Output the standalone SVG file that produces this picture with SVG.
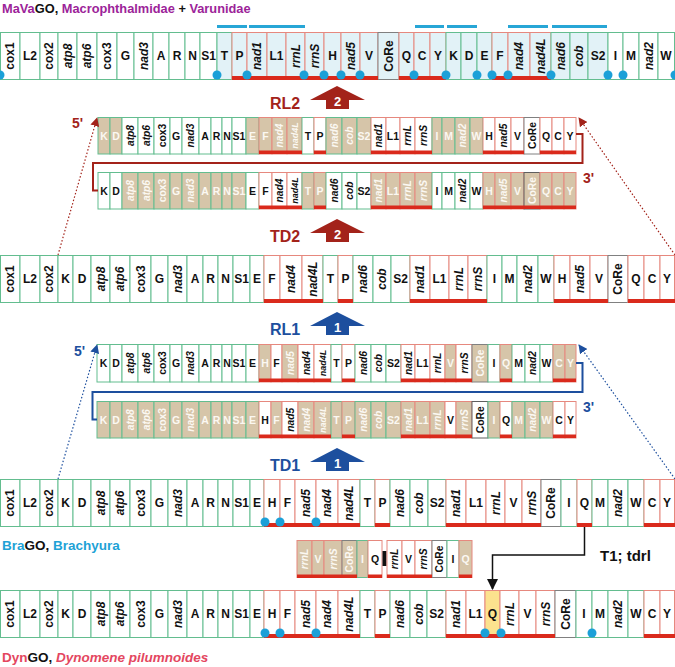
<svg xmlns="http://www.w3.org/2000/svg" xmlns:xlink="http://www.w3.org/1999/xlink" width="675" height="667" viewBox="0 0 675 667">
<style>
rect{stroke-width:1}
.g{stroke:#63bd8f}.r{stroke:#e6887e}.k{stroke:#808080}
.w{fill:#fff}.t{fill:#d6c5a9}.b{fill:#e2f2f7}.y{fill:#fce28e}
text{font-family:"Liberation Sans",Arial,sans-serif;font-weight:bold;text-anchor:middle;dominant-baseline:central;fill:#111;font-size:12px}
.m{font-size:10.5px}.n{font-size:10.3px}.n8{font-size:9px}
.i{font-style:italic}
.lt{fill:#fbf8f2}
.bar{fill:#da2a1c;stroke:none}
.dot{fill:#1ba0d8}
.bb{fill:#27a6d6}
.lab{text-anchor:start;dominant-baseline:auto}
.num{fill:#fff;font-size:13px}
.rd{fill:#a3231a}.bl{fill:#1d4f9e}
</style>
<defs>
<path id="bigArrow" d="M310,100 L337,86 L365,100 L349,100 L349,109 L326,109 L326,100 Z"/>
<marker id="mr" viewBox="0 0 10 10" refX="9" refY="5" markerWidth="9" markerHeight="9" markerUnits="userSpaceOnUse" orient="auto"><path d="M0,0 L10,5 L0,10 Z" fill="#a3231a"/></marker>
<marker id="mb" viewBox="0 0 10 10" refX="9" refY="5" markerWidth="9" markerHeight="9" markerUnits="userSpaceOnUse" orient="auto"><path d="M0,0 L10,5 L0,10 Z" fill="#1d4f9e"/></marker>
<marker id="mk" viewBox="0 0 10 10" refX="9" refY="5" markerWidth="11" markerHeight="12" markerUnits="userSpaceOnUse" orient="auto"><path d="M0,0 L10,5 L0,10 Z" fill="#111"/></marker>
</defs>

<!-- Titles -->
<text class="lab" x="2" y="13" style="font-size:12.8px"><tspan fill="#9c2399">MaVa</tspan>GO, <tspan fill="#9c2399">Macrophthalmidae</tspan> + <tspan fill="#9c2399">Varunidae</tspan></text>
<text class="lab" x="2" y="550" style="font-size:13.5px"><tspan fill="#1ea2d6">Bra</tspan>GO, <tspan fill="#1ea2d6">Brachyura</tspan></text>
<text class="lab" x="2" y="662" style="font-size:13.5px"><tspan fill="#e4475f">Dyn</tspan>GO, <tspan fill="#e4475f" font-style="italic">Dynomene pilumnoides</tspan></text>

<!-- Row 1: MaVaGO -->
<g id="mavago">
<rect class="g w" x="0.5" y="32.5" width="19.5" height="47"/>
<rect class="g w" x="20" y="32.5" width="20" height="47"/>
<rect class="g w" x="40" y="32.5" width="18" height="47"/>
<rect class="g w" x="58" y="32.5" width="19" height="47"/>
<rect class="g w" x="77" y="32.5" width="20" height="47"/>
<rect class="g w" x="97" y="32.5" width="20" height="47"/>
<rect class="g w" x="117" y="32.5" width="17" height="47"/>
<rect class="g w" x="134" y="32.5" width="19" height="47"/>
<rect class="g w" x="153" y="32.5" width="16" height="47"/>
<rect class="g w" x="169" y="32.5" width="16" height="47"/>
<rect class="g w" x="185" y="32.5" width="15" height="47"/>
<rect class="g w" x="200" y="32.5" width="17" height="47"/>
<rect class="g b" x="217" y="32.5" width="15" height="47"/>
<rect class="r b" x="232" y="32.5" width="15" height="47"/>
<rect class="r b" x="247" y="32.5" width="20" height="47"/>
<rect class="r b" x="267" y="32.5" width="19" height="47"/>
<rect class="r b" x="286" y="32.5" width="19" height="47"/>
<rect class="r b" x="305" y="32.5" width="19" height="47"/>
<rect class="r b" x="324" y="32.5" width="17" height="47"/>
<rect class="r b" x="341" y="32.5" width="19" height="47"/>
<rect class="r b" x="360" y="32.5" width="18" height="47"/>
<rect class="k b" x="378" y="32.5" width="21" height="47"/>
<rect class="r b" x="399" y="32.5" width="15" height="47"/>
<rect class="r b" x="414" y="32.5" width="16" height="47"/>
<rect class="r b" x="430" y="32.5" width="16" height="47"/>
<rect class="g b" x="446" y="32.5" width="15" height="47"/>
<rect class="g b" x="461" y="32.5" width="16" height="47"/>
<rect class="g b" x="477" y="32.5" width="15" height="47"/>
<rect class="r b" x="492" y="32.5" width="16" height="47"/>
<rect class="r b" x="508" y="32.5" width="22" height="47"/>
<rect class="r b" x="530" y="32.5" width="21" height="47"/>
<rect class="g b" x="551" y="32.5" width="19" height="47"/>
<rect class="g b" x="570" y="32.5" width="18" height="47"/>
<rect class="g b" x="588" y="32.5" width="20" height="47"/>
<rect class="g w" x="608" y="32.5" width="15" height="47"/>
<rect class="g w" x="623" y="32.5" width="16" height="47"/>
<rect class="g w" x="639" y="32.5" width="19" height="47"/>
<rect class="g w" x="658" y="32.5" width="16.5" height="47"/>
<text transform="rotate(-90 10.25 56)" x="10.25" y="56">cox1</text>
<text x="30" y="56">L2</text>
<text transform="rotate(-90 49 56)" x="49" y="56">cox2</text>
<text class="i" transform="rotate(-90 67.5 56)" x="67.5" y="56">atp8</text>
<text class="i" transform="rotate(-90 87 56)" x="87" y="56">atp6</text>
<text transform="rotate(-90 107 56)" x="107" y="56">cox3</text>
<text x="125.5" y="56">G</text>
<text class="i" transform="rotate(-90 143.5 56)" x="143.5" y="56">nad3</text>
<text x="161" y="56">A</text>
<text x="177" y="56">R</text>
<text x="192.5" y="56">N</text>
<text x="208.5" y="56">S1</text>
<text x="224.5" y="56">T</text>
<text x="239.5" y="56">P</text>
<text class="i" transform="rotate(-90 257 56)" x="257" y="56">nad1</text>
<text x="276.5" y="56">L1</text>
<text class="i" transform="rotate(-90 295.5 56)" x="295.5" y="56">rrnL</text>
<text class="i" transform="rotate(-90 314.5 56)" x="314.5" y="56">rrnS</text>
<text x="332.5" y="56">H</text>
<text class="i" transform="rotate(-90 350.5 56)" x="350.5" y="56">nad5</text>
<text x="369" y="56">V</text>
<text transform="rotate(-90 388.5 56)" x="388.5" y="56">CoRe</text>
<text x="406.5" y="56">Q</text>
<text x="422" y="56">C</text>
<text x="438" y="56">Y</text>
<text x="453.5" y="56">K</text>
<text x="469" y="56">D</text>
<text x="484.5" y="56">E</text>
<text x="500" y="56">F</text>
<text class="i" transform="rotate(-90 519 56)" x="519" y="56">nad4</text>
<text class="i" transform="rotate(-90 540.5 56)" x="540.5" y="56">nad4L</text>
<text class="i" transform="rotate(-90 560.5 56)" x="560.5" y="56">nad6</text>
<text class="i" transform="rotate(-90 579 56)" x="579" y="56">cob</text>
<text x="598" y="56">S2</text>
<text x="615.5" y="56">I</text>
<text x="631" y="56">M</text>
<text class="i" transform="rotate(-90 648.5 56)" x="648.5" y="56">nad2</text>
<text x="666" y="56">W</text>
<rect class="bar" x="232" y="76" width="146" height="4"/>
<rect class="bar" x="399" y="76" width="47" height="4"/>
<rect class="bar" x="492" y="76" width="59" height="4"/>
<rect class="bb" x="217" y="25" width="30" height="3"/>
<rect class="bb" x="249" y="25" width="56" height="3"/>
<rect class="bb" x="415" y="25" width="29" height="3"/>
<rect class="bb" x="447" y="25" width="30" height="3"/>
<rect class="bb" x="508" y="25" width="40" height="3"/>
<rect class="bb" x="552" y="25" width="55" height="3"/>
<circle class="dot" cx="0" cy="75" r="4.5"/><circle class="dot" cx="217" cy="75" r="4.5"/><circle class="dot" cx="247" cy="75" r="4.5"/><circle class="dot" cx="304" cy="75" r="4.5"/><circle class="dot" cx="324" cy="75" r="4.5"/><circle class="dot" cx="341" cy="75" r="4.5"/><circle class="dot" cx="360" cy="75" r="4.5"/><circle class="dot" cx="414" cy="75" r="4.5"/><circle class="dot" cx="446" cy="75" r="4.5"/><circle class="dot" cx="477" cy="75" r="4.5"/><circle class="dot" cx="492" cy="75" r="4.5"/><circle class="dot" cx="508" cy="75" r="4.5"/><circle class="dot" cx="551" cy="75" r="4.5"/><circle class="dot" cx="608" cy="75" r="4.5"/><circle class="dot" cx="623" cy="75" r="4.5"/><circle class="dot" cx="675" cy="75" r="4.5"/>
</g>

<!-- RL2 labels -->
<g id="rl2-label">
<text class="lab rd" x="270" y="109" style="font-size:16px">RL2</text>
<use xlink:href="#bigArrow" href="#bigArrow" fill="#a3231a"/>
<text class="num" x="337.5" y="101">2</text>
<text class="lab rd" x="72" y="128" style="font-size:14px">5'</text>
<text class="lab rd" x="583" y="183" style="font-size:14px">3'</text>
</g>

<!-- RL2 top -->
<g id="rl2-top">
<rect class="g t" x="98" y="117.5" width="12" height="36.5"/>
<rect class="g t" x="110" y="117.5" width="12" height="36.5"/>
<rect class="g w" x="122" y="117.5" width="16" height="36.5"/>
<rect class="g w" x="138" y="117.5" width="16" height="36.5"/>
<rect class="g w" x="154" y="117.5" width="16" height="36.5"/>
<rect class="g w" x="170" y="117.5" width="12" height="36.5"/>
<rect class="g w" x="182" y="117.5" width="17" height="36.5"/>
<rect class="g w" x="199" y="117.5" width="12" height="36.5"/>
<rect class="g w" x="211" y="117.5" width="11" height="36.5"/>
<rect class="g w" x="222" y="117.5" width="10" height="36.5"/>
<rect class="g w" x="232" y="117.5" width="14" height="36.5"/>
<rect class="g t" x="246" y="117.5" width="13" height="36.5"/>
<rect class="r t" x="259" y="117.5" width="13" height="36.5"/>
<rect class="r t" x="272" y="117.5" width="15" height="36.5"/>
<rect class="r t" x="287" y="117.5" width="15" height="36.5"/>
<rect class="g w" x="302" y="117.5" width="12" height="36.5"/>
<rect class="r w" x="314" y="117.5" width="12" height="36.5"/>
<rect class="g t" x="326" y="117.5" width="16" height="36.5"/>
<rect class="g t" x="342" y="117.5" width="15" height="36.5"/>
<rect class="g t" x="357" y="117.5" width="14" height="36.5"/>
<rect class="r w" x="371" y="117.5" width="15" height="36.5"/>
<rect class="r w" x="386" y="117.5" width="14" height="36.5"/>
<rect class="r w" x="400" y="117.5" width="15" height="36.5"/>
<rect class="r w" x="415" y="117.5" width="17" height="36.5"/>
<rect class="g t" x="432" y="117.5" width="10" height="36.5"/>
<rect class="g t" x="442" y="117.5" width="13" height="36.5"/>
<rect class="g t" x="455" y="117.5" width="15" height="36.5"/>
<rect class="g t" x="470" y="117.5" width="13" height="36.5"/>
<rect class="r w" x="483" y="117.5" width="12" height="36.5"/>
<rect class="r w" x="495" y="117.5" width="16" height="36.5"/>
<rect class="r w" x="511" y="117.5" width="13" height="36.5"/>
<rect class="k w" x="524" y="117.5" width="16" height="36.5"/>
<rect class="r w" x="540" y="117.5" width="12" height="36.5"/>
<rect class="r w" x="552" y="117.5" width="12" height="36.5"/>
<rect class="r w" x="564" y="117.5" width="12" height="36.5"/>
<text class="m lt" x="104" y="135.5">K</text>
<text class="m lt" x="116" y="135.5">D</text>
<text class="n i" transform="rotate(-90 130 135.5)" x="130" y="135.5">atp8</text>
<text class="n i" transform="rotate(-90 146 135.5)" x="146" y="135.5">atp6</text>
<text class="n" transform="rotate(-90 162 135.5)" x="162" y="135.5">cox3</text>
<text class="m" x="176" y="135.5">G</text>
<text class="n i" transform="rotate(-90 190.5 135.5)" x="190.5" y="135.5">nad3</text>
<text class="m" x="205" y="135.5">A</text>
<text class="m" x="216.5" y="135.5">R</text>
<text class="m" x="227" y="135.5">N</text>
<text class="m" x="239" y="135.5">S1</text>
<text class="m lt" x="252.5" y="135.5">E</text>
<text class="m lt" x="265.5" y="135.5">F</text>
<text class="n i lt" transform="rotate(-90 279.5 135.5)" x="279.5" y="135.5">nad4</text>
<text class="n8 i lt" transform="rotate(-90 294.5 135.5)" x="294.5" y="135.5">nad4L</text>
<text class="m" x="308" y="135.5">T</text>
<text class="m" x="320" y="135.5">P</text>
<text class="n i lt" transform="rotate(-90 334 135.5)" x="334" y="135.5">nad6</text>
<text class="n i lt" transform="rotate(-90 349.5 135.5)" x="349.5" y="135.5">cob</text>
<text class="m lt" x="364" y="135.5">S2</text>
<text class="n i" transform="rotate(-90 378.5 135.5)" x="378.5" y="135.5">nad1</text>
<text class="m" x="393" y="135.5">L1</text>
<text class="n i" transform="rotate(-90 407.5 135.5)" x="407.5" y="135.5">rrnL</text>
<text class="n i" transform="rotate(-90 423.5 135.5)" x="423.5" y="135.5">rrnS</text>
<text class="m lt" x="437" y="135.5">I</text>
<text class="m lt" x="448.5" y="135.5">M</text>
<text class="n i lt" transform="rotate(-90 462.5 135.5)" x="462.5" y="135.5">nad2</text>
<text class="m lt" x="476.5" y="135.5">W</text>
<text class="m" x="489" y="135.5">H</text>
<text class="n i" transform="rotate(-90 503 135.5)" x="503" y="135.5">nad5</text>
<text class="m" x="517.5" y="135.5">V</text>
<text class="n" transform="rotate(-90 532 135.5)" x="532" y="135.5">CoRe</text>
<text class="m" x="546" y="135.5">Q</text>
<text class="m" x="558" y="135.5">C</text>
<text class="m" x="570" y="135.5">Y</text>
<rect class="bar" x="259" y="150.5" width="43" height="3.5"/>
<rect class="bar" x="314" y="150.5" width="12" height="3.5"/>
<rect class="bar" x="371" y="150.5" width="61" height="3.5"/>
<rect class="bar" x="483" y="150.5" width="41" height="3.5"/>
<rect class="bar" x="540" y="150.5" width="36" height="3.5"/>
</g>

<!-- RL2 bottom -->
<g id="rl2-bottom">
<rect class="g w" x="98" y="172.5" width="12" height="36.5"/>
<rect class="g w" x="110" y="172.5" width="12" height="36.5"/>
<rect class="g t" x="122" y="172.5" width="16" height="36.5"/>
<rect class="g t" x="138" y="172.5" width="16" height="36.5"/>
<rect class="g t" x="154" y="172.5" width="16" height="36.5"/>
<rect class="g t" x="170" y="172.5" width="12" height="36.5"/>
<rect class="g t" x="182" y="172.5" width="17" height="36.5"/>
<rect class="g t" x="199" y="172.5" width="12" height="36.5"/>
<rect class="g t" x="211" y="172.5" width="11" height="36.5"/>
<rect class="g t" x="222" y="172.5" width="10" height="36.5"/>
<rect class="g t" x="232" y="172.5" width="14" height="36.5"/>
<rect class="g w" x="246" y="172.5" width="13" height="36.5"/>
<rect class="r w" x="259" y="172.5" width="13" height="36.5"/>
<rect class="r w" x="272" y="172.5" width="15" height="36.5"/>
<rect class="r w" x="287" y="172.5" width="15" height="36.5"/>
<rect class="g t" x="302" y="172.5" width="12" height="36.5"/>
<rect class="r t" x="314" y="172.5" width="12" height="36.5"/>
<rect class="g w" x="326" y="172.5" width="16" height="36.5"/>
<rect class="g w" x="342" y="172.5" width="15" height="36.5"/>
<rect class="g w" x="357" y="172.5" width="14" height="36.5"/>
<rect class="r t" x="371" y="172.5" width="15" height="36.5"/>
<rect class="r t" x="386" y="172.5" width="14" height="36.5"/>
<rect class="r t" x="400" y="172.5" width="15" height="36.5"/>
<rect class="r t" x="415" y="172.5" width="17" height="36.5"/>
<rect class="g w" x="432" y="172.5" width="10" height="36.5"/>
<rect class="g w" x="442" y="172.5" width="13" height="36.5"/>
<rect class="g w" x="455" y="172.5" width="15" height="36.5"/>
<rect class="g w" x="470" y="172.5" width="13" height="36.5"/>
<rect class="r t" x="483" y="172.5" width="12" height="36.5"/>
<rect class="r t" x="495" y="172.5" width="16" height="36.5"/>
<rect class="r t" x="511" y="172.5" width="13" height="36.5"/>
<rect class="t" x="524" y="172.5" width="16" height="36.5" stroke="#5f5f5f"/>
<rect class="r t" x="540" y="172.5" width="12" height="36.5"/>
<rect class="r t" x="552" y="172.5" width="12" height="36.5"/>
<rect class="r t" x="564" y="172.5" width="12" height="36.5"/>
<text class="m" x="104" y="190.5">K</text>
<text class="m" x="116" y="190.5">D</text>
<text class="n i lt" transform="rotate(-90 130 190.5)" x="130" y="190.5">atp8</text>
<text class="n i lt" transform="rotate(-90 146 190.5)" x="146" y="190.5">atp6</text>
<text class="n lt" transform="rotate(-90 162 190.5)" x="162" y="190.5">cox3</text>
<text class="m lt" x="176" y="190.5">G</text>
<text class="n i lt" transform="rotate(-90 190.5 190.5)" x="190.5" y="190.5">nad3</text>
<text class="m lt" x="205" y="190.5">A</text>
<text class="m lt" x="216.5" y="190.5">R</text>
<text class="m lt" x="227" y="190.5">N</text>
<text class="m lt" x="239" y="190.5">S1</text>
<text class="m" x="252.5" y="190.5">E</text>
<text class="m" x="265.5" y="190.5">F</text>
<text class="n i" transform="rotate(-90 279.5 190.5)" x="279.5" y="190.5">nad4</text>
<text class="n8 i" transform="rotate(-90 294.5 190.5)" x="294.5" y="190.5">nad4L</text>
<text class="m lt" x="308" y="190.5">T</text>
<text class="m lt" x="320" y="190.5">P</text>
<text class="n i" transform="rotate(-90 334 190.5)" x="334" y="190.5">nad6</text>
<text class="n i" transform="rotate(-90 349.5 190.5)" x="349.5" y="190.5">cob</text>
<text class="m" x="364" y="190.5">S2</text>
<text class="n i lt" transform="rotate(-90 378.5 190.5)" x="378.5" y="190.5">nad1</text>
<text class="m lt" x="393" y="190.5">L1</text>
<text class="n i lt" transform="rotate(-90 407.5 190.5)" x="407.5" y="190.5">rrnL</text>
<text class="n i lt" transform="rotate(-90 423.5 190.5)" x="423.5" y="190.5">rrnS</text>
<text class="m" x="437" y="190.5">I</text>
<text class="m" x="448.5" y="190.5">M</text>
<text class="n i" transform="rotate(-90 462.5 190.5)" x="462.5" y="190.5">nad2</text>
<text class="m" x="476.5" y="190.5">W</text>
<text class="m lt" x="489" y="190.5">H</text>
<text class="n i lt" transform="rotate(-90 503 190.5)" x="503" y="190.5">nad5</text>
<text class="m lt" x="517.5" y="190.5">V</text>
<text class="n lt" transform="rotate(-90 532 190.5)" x="532" y="190.5">CoRe</text>
<text class="m lt" x="546" y="190.5">Q</text>
<text class="m lt" x="558" y="190.5">C</text>
<text class="m lt" x="570" y="190.5">Y</text>
<rect class="bar" x="259" y="205.5" width="43" height="3.5"/>
<rect class="bar" x="314" y="205.5" width="12" height="3.5"/>
<rect class="bar" x="371" y="205.5" width="61" height="3.5"/>
<rect class="bar" x="483" y="205.5" width="93" height="3.5"/>
</g>

<!-- TD2 label -->
<g id="td2-label">
<text class="lab rd" x="270" y="242" style="font-size:16px">TD2</text>
<use xlink:href="#bigArrow" href="#bigArrow" fill="#a3231a" transform="translate(0,133)"/>
<text class="num" x="337.5" y="234">2</text>
</g>

<!-- TD2 row -->
<g id="td2">
<rect class="g w" x="0.5" y="255.5" width="19.5" height="47"/>
<rect class="g w" x="20" y="255.5" width="20" height="47"/>
<rect class="g w" x="40" y="255.5" width="18" height="47"/>
<rect class="g w" x="58" y="255.5" width="15" height="47"/>
<rect class="g w" x="73" y="255.5" width="18" height="47"/>
<rect class="g w" x="91" y="255.5" width="19" height="47"/>
<rect class="g w" x="110" y="255.5" width="20" height="47"/>
<rect class="g w" x="130" y="255.5" width="21" height="47"/>
<rect class="g w" x="151" y="255.5" width="17" height="47"/>
<rect class="g w" x="168" y="255.5" width="19" height="47"/>
<rect class="g w" x="187" y="255.5" width="16" height="47"/>
<rect class="g w" x="203" y="255.5" width="15" height="47"/>
<rect class="g w" x="218" y="255.5" width="15" height="47"/>
<rect class="g w" x="233" y="255.5" width="17" height="47"/>
<rect class="g w" x="250" y="255.5" width="14" height="47"/>
<rect class="r w" x="264" y="255.5" width="16" height="47"/>
<rect class="r w" x="280" y="255.5" width="22" height="47"/>
<rect class="r w" x="302" y="255.5" width="21" height="47"/>
<rect class="g w" x="323" y="255.5" width="15" height="47"/>
<rect class="r w" x="338" y="255.5" width="15" height="47"/>
<rect class="g w" x="353" y="255.5" width="20" height="47"/>
<rect class="g w" x="373" y="255.5" width="18" height="47"/>
<rect class="g w" x="391" y="255.5" width="19" height="47"/>
<rect class="r w" x="410" y="255.5" width="20" height="47"/>
<rect class="r w" x="430" y="255.5" width="19" height="47"/>
<rect class="r w" x="449" y="255.5" width="19" height="47"/>
<rect class="r w" x="468" y="255.5" width="19" height="47"/>
<rect class="g w" x="487" y="255.5" width="15" height="47"/>
<rect class="g w" x="502" y="255.5" width="15" height="47"/>
<rect class="g w" x="517" y="255.5" width="21" height="47"/>
<rect class="g w" x="538" y="255.5" width="16" height="47"/>
<rect class="r w" x="554" y="255.5" width="16" height="47"/>
<rect class="r w" x="570" y="255.5" width="20" height="47"/>
<rect class="r w" x="590" y="255.5" width="18" height="47"/>
<rect class="k w" x="608" y="255.5" width="20" height="47"/>
<rect class="r w" x="628" y="255.5" width="16" height="47"/>
<rect class="r w" x="644" y="255.5" width="16" height="47"/>
<rect class="r w" x="660" y="255.5" width="14.5" height="47"/>
<text transform="rotate(-90 10.25 279)" x="10.25" y="279">cox1</text>
<text x="30" y="279">L2</text>
<text transform="rotate(-90 49 279)" x="49" y="279">cox2</text>
<text x="65.5" y="279">K</text>
<text x="82" y="279">D</text>
<text class="i" transform="rotate(-90 100.5 279)" x="100.5" y="279">atp8</text>
<text class="i" transform="rotate(-90 120 279)" x="120" y="279">atp6</text>
<text transform="rotate(-90 140.5 279)" x="140.5" y="279">cox3</text>
<text x="159.5" y="279">G</text>
<text class="i" transform="rotate(-90 177.5 279)" x="177.5" y="279">nad3</text>
<text x="195" y="279">A</text>
<text x="210.5" y="279">R</text>
<text x="225.5" y="279">N</text>
<text x="241.5" y="279">S1</text>
<text x="257" y="279">E</text>
<text x="272" y="279">F</text>
<text class="i" transform="rotate(-90 291 279)" x="291" y="279">nad4</text>
<text class="i" transform="rotate(-90 312.5 279)" x="312.5" y="279">nad4L</text>
<text x="330.5" y="279">T</text>
<text x="345.5" y="279">P</text>
<text class="i" transform="rotate(-90 363 279)" x="363" y="279">nad6</text>
<text class="i" transform="rotate(-90 382 279)" x="382" y="279">cob</text>
<text x="400.5" y="279">S2</text>
<text class="i" transform="rotate(-90 420 279)" x="420" y="279">nad1</text>
<text x="439.5" y="279">L1</text>
<text class="i" transform="rotate(-90 458.5 279)" x="458.5" y="279">rrnL</text>
<text class="i" transform="rotate(-90 477.5 279)" x="477.5" y="279">rrnS</text>
<text x="494.5" y="279">I</text>
<text x="509.5" y="279">M</text>
<text class="i" transform="rotate(-90 527.5 279)" x="527.5" y="279">nad2</text>
<text x="546" y="279">W</text>
<text x="562" y="279">H</text>
<text class="i" transform="rotate(-90 580 279)" x="580" y="279">nad5</text>
<text x="599" y="279">V</text>
<text transform="rotate(-90 618 279)" x="618" y="279">CoRe</text>
<text x="636" y="279">Q</text>
<text x="652" y="279">C</text>
<text x="667" y="279">Y</text>
<rect class="bar" x="264" y="299" width="59" height="4"/>
<rect class="bar" x="338" y="299" width="15" height="4"/>
<rect class="bar" x="410" y="299" width="77" height="4"/>
<rect class="bar" x="554" y="299" width="54" height="4"/>
<rect class="bar" x="628" y="299" width="47" height="4"/>
</g>

<!-- RL1 labels -->
<g id="rl1-label">
<text class="lab bl" x="270" y="335" style="font-size:16px">RL1</text>
<use xlink:href="#bigArrow" href="#bigArrow" fill="#1d4f9e" transform="translate(0,226)"/>
<text class="num" x="337.5" y="327">1</text>
<text class="lab bl" x="74" y="356" style="font-size:14px">5'</text>
<text class="lab bl" x="583" y="412" style="font-size:14px">3'</text>
</g>

<!-- RL1 top -->
<g id="rl1-top">
<rect class="g w" x="97" y="344.5" width="13" height="37.5"/>
<rect class="g w" x="110" y="344.5" width="12" height="37.5"/>
<rect class="g w" x="122" y="344.5" width="16" height="37.5"/>
<rect class="g w" x="138" y="344.5" width="16" height="37.5"/>
<rect class="g w" x="154" y="344.5" width="16" height="37.5"/>
<rect class="g w" x="170" y="344.5" width="12" height="37.5"/>
<rect class="g w" x="182" y="344.5" width="17" height="37.5"/>
<rect class="g w" x="199" y="344.5" width="12" height="37.5"/>
<rect class="g w" x="211" y="344.5" width="11" height="37.5"/>
<rect class="g w" x="222" y="344.5" width="10" height="37.5"/>
<rect class="g w" x="232" y="344.5" width="14" height="37.5"/>
<rect class="g w" x="246" y="344.5" width="13" height="37.5"/>
<rect class="r t" x="259" y="344.5" width="12" height="37.5"/>
<rect class="r w" x="271" y="344.5" width="11" height="37.5"/>
<rect class="r t" x="282" y="344.5" width="16" height="37.5"/>
<rect class="r w" x="298" y="344.5" width="16" height="37.5"/>
<rect class="r w" x="314" y="344.5" width="17" height="37.5"/>
<rect class="g w" x="331" y="344.5" width="11" height="37.5"/>
<rect class="r w" x="342" y="344.5" width="13" height="37.5"/>
<rect class="g w" x="355" y="344.5" width="16" height="37.5"/>
<rect class="g w" x="371" y="344.5" width="15" height="37.5"/>
<rect class="g w" x="386" y="344.5" width="15" height="37.5"/>
<rect class="r w" x="401" y="344.5" width="14" height="37.5"/>
<rect class="r w" x="415" y="344.5" width="15" height="37.5"/>
<rect class="r w" x="430" y="344.5" width="15" height="37.5"/>
<rect class="r t" x="445" y="344.5" width="11" height="37.5"/>
<rect class="r w" x="456" y="344.5" width="16" height="37.5"/>
<rect class="k t" x="472" y="344.5" width="16" height="37.5"/>
<rect class="g w" x="488" y="344.5" width="12" height="37.5"/>
<rect class="r t" x="500" y="344.5" width="12" height="37.5"/>
<rect class="g w" x="512" y="344.5" width="13" height="37.5"/>
<rect class="g w" x="525" y="344.5" width="15" height="37.5"/>
<rect class="g w" x="540" y="344.5" width="13" height="37.5"/>
<rect class="r t" x="553" y="344.5" width="12" height="37.5"/>
<rect class="r t" x="565" y="344.5" width="11" height="37.5"/>
<text class="m" x="103.5" y="363">K</text>
<text class="m" x="116" y="363">D</text>
<text class="n i" transform="rotate(-90 130 363)" x="130" y="363">atp8</text>
<text class="n i" transform="rotate(-90 146 363)" x="146" y="363">atp6</text>
<text class="n" transform="rotate(-90 162 363)" x="162" y="363">cox3</text>
<text class="m" x="176" y="363">G</text>
<text class="n i" transform="rotate(-90 190.5 363)" x="190.5" y="363">nad3</text>
<text class="m" x="205" y="363">A</text>
<text class="m" x="216.5" y="363">R</text>
<text class="m" x="227" y="363">N</text>
<text class="m" x="239" y="363">S1</text>
<text class="m" x="252.5" y="363">E</text>
<text class="m lt" x="265" y="363">H</text>
<text class="m" x="276.5" y="363">F</text>
<text class="n i lt" transform="rotate(-90 290 363)" x="290" y="363">nad5</text>
<text class="n i" transform="rotate(-90 306 363)" x="306" y="363">nad4</text>
<text class="n8 i" transform="rotate(-90 322.5 363)" x="322.5" y="363">nad4L</text>
<text class="m" x="336.5" y="363">T</text>
<text class="m" x="348.5" y="363">P</text>
<text class="n i" transform="rotate(-90 363 363)" x="363" y="363">nad6</text>
<text class="n i" transform="rotate(-90 378.5 363)" x="378.5" y="363">cob</text>
<text class="m" x="393.5" y="363">S2</text>
<text class="n i" transform="rotate(-90 408 363)" x="408" y="363">nad1</text>
<text class="m" x="422.5" y="363">L1</text>
<text class="n i" transform="rotate(-90 437.5 363)" x="437.5" y="363">rrnL</text>
<text class="m lt" x="450.5" y="363">V</text>
<text class="n i" transform="rotate(-90 464 363)" x="464" y="363">rrnS</text>
<text class="n lt" transform="rotate(-90 480 363)" x="480" y="363">CoRe</text>
<text class="m" x="494" y="363">I</text>
<text class="m lt" x="506" y="363">Q</text>
<text class="m" x="518.5" y="363">M</text>
<text class="n i" transform="rotate(-90 532.5 363)" x="532.5" y="363">nad2</text>
<text class="m" x="546.5" y="363">W</text>
<text class="m lt" x="559" y="363">C</text>
<text class="m lt" x="570.5" y="363">Y</text>
<rect class="bar" x="259" y="378.5" width="72" height="3.5"/>
<rect class="bar" x="342" y="378.5" width="13" height="3.5"/>
<rect class="bar" x="401" y="378.5" width="71" height="3.5"/>
<rect class="bar" x="500" y="378.5" width="12" height="3.5"/>
<rect class="bar" x="553" y="378.5" width="23" height="3.5"/>
</g>

<!-- RL1 bottom -->
<g id="rl1-bottom">
<rect class="g t" x="97" y="401.5" width="13" height="36.5"/>
<rect class="g t" x="110" y="401.5" width="12" height="36.5"/>
<rect class="g t" x="122" y="401.5" width="16" height="36.5"/>
<rect class="g t" x="138" y="401.5" width="16" height="36.5"/>
<rect class="g t" x="154" y="401.5" width="16" height="36.5"/>
<rect class="g t" x="170" y="401.5" width="12" height="36.5"/>
<rect class="g t" x="182" y="401.5" width="17" height="36.5"/>
<rect class="g t" x="199" y="401.5" width="12" height="36.5"/>
<rect class="g t" x="211" y="401.5" width="11" height="36.5"/>
<rect class="g t" x="222" y="401.5" width="10" height="36.5"/>
<rect class="g t" x="232" y="401.5" width="14" height="36.5"/>
<rect class="g t" x="246" y="401.5" width="13" height="36.5"/>
<rect class="r w" x="259" y="401.5" width="12" height="36.5"/>
<rect class="r t" x="271" y="401.5" width="11" height="36.5"/>
<rect class="r w" x="282" y="401.5" width="16" height="36.5"/>
<rect class="r t" x="298" y="401.5" width="16" height="36.5"/>
<rect class="r t" x="314" y="401.5" width="17" height="36.5"/>
<rect class="g t" x="331" y="401.5" width="11" height="36.5"/>
<rect class="r t" x="342" y="401.5" width="13" height="36.5"/>
<rect class="g t" x="355" y="401.5" width="16" height="36.5"/>
<rect class="g t" x="371" y="401.5" width="15" height="36.5"/>
<rect class="g t" x="386" y="401.5" width="15" height="36.5"/>
<rect class="r t" x="401" y="401.5" width="14" height="36.5"/>
<rect class="r t" x="415" y="401.5" width="15" height="36.5"/>
<rect class="r t" x="430" y="401.5" width="15" height="36.5"/>
<rect class="r w" x="445" y="401.5" width="11" height="36.5"/>
<rect class="r t" x="456" y="401.5" width="16" height="36.5"/>
<rect class="w" x="472" y="401.5" width="16" height="36.5" stroke="#5f5f5f"/>
<rect class="g t" x="488" y="401.5" width="12" height="36.5"/>
<rect class="r w" x="500" y="401.5" width="12" height="36.5"/>
<rect class="g t" x="512" y="401.5" width="13" height="36.5"/>
<rect class="g t" x="525" y="401.5" width="15" height="36.5"/>
<rect class="g t" x="540" y="401.5" width="13" height="36.5"/>
<rect class="r w" x="553" y="401.5" width="12" height="36.5"/>
<rect class="r w" x="565" y="401.5" width="11" height="36.5"/>
<text class="m lt" x="103.5" y="419.75">K</text>
<text class="m lt" x="116" y="419.75">D</text>
<text class="n i lt" transform="rotate(-90 130 419.75)" x="130" y="419.75">atp8</text>
<text class="n i lt" transform="rotate(-90 146 419.75)" x="146" y="419.75">atp6</text>
<text class="n lt" transform="rotate(-90 162 419.75)" x="162" y="419.75">cox3</text>
<text class="m lt" x="176" y="419.75">G</text>
<text class="n i lt" transform="rotate(-90 190.5 419.75)" x="190.5" y="419.75">nad3</text>
<text class="m lt" x="205" y="419.75">A</text>
<text class="m lt" x="216.5" y="419.75">R</text>
<text class="m lt" x="227" y="419.75">N</text>
<text class="m lt" x="239" y="419.75">S1</text>
<text class="m lt" x="252.5" y="419.75">E</text>
<text class="m" x="265" y="419.75">H</text>
<text class="m lt" x="276.5" y="419.75">F</text>
<text class="n i" transform="rotate(-90 290 419.75)" x="290" y="419.75">nad5</text>
<text class="n i lt" transform="rotate(-90 306 419.75)" x="306" y="419.75">nad4</text>
<text class="n8 i lt" transform="rotate(-90 322.5 419.75)" x="322.5" y="419.75">nad4L</text>
<text class="m lt" x="336.5" y="419.75">T</text>
<text class="m lt" x="348.5" y="419.75">P</text>
<text class="n i lt" transform="rotate(-90 363 419.75)" x="363" y="419.75">nad6</text>
<text class="n i lt" transform="rotate(-90 378.5 419.75)" x="378.5" y="419.75">cob</text>
<text class="m lt" x="393.5" y="419.75">S2</text>
<text class="n i lt" transform="rotate(-90 408 419.75)" x="408" y="419.75">nad1</text>
<text class="m lt" x="422.5" y="419.75">L1</text>
<text class="n i lt" transform="rotate(-90 437.5 419.75)" x="437.5" y="419.75">rrnL</text>
<text class="m" x="450.5" y="419.75">V</text>
<text class="n i lt" transform="rotate(-90 464 419.75)" x="464" y="419.75">rrnS</text>
<text class="n" transform="rotate(-90 480 419.75)" x="480" y="419.75">CoRe</text>
<text class="m lt" x="494" y="419.75">I</text>
<text class="m" x="506" y="419.75">Q</text>
<text class="m lt" x="518.5" y="419.75">M</text>
<text class="n i lt" transform="rotate(-90 532.5 419.75)" x="532.5" y="419.75">nad2</text>
<text class="m lt" x="546.5" y="419.75">W</text>
<text class="m" x="559" y="419.75">C</text>
<text class="m" x="570.5" y="419.75">Y</text>
<rect class="bar" x="259" y="434.5" width="72" height="3.5"/>
<rect class="bar" x="342" y="434.5" width="13" height="3.5"/>
<rect class="bar" x="401" y="434.5" width="71" height="3.5"/>
<rect class="bar" x="500" y="434.5" width="12" height="3.5"/>
<rect class="bar" x="553" y="434.5" width="23" height="3.5"/>
</g>

<!-- TD1 label -->
<g id="td1-label">
<text class="lab bl" x="270" y="471" style="font-size:16px">TD1</text>
<use xlink:href="#bigArrow" href="#bigArrow" fill="#1d4f9e" transform="translate(0,362)"/>
<text class="num" x="337.5" y="463">1</text>
</g>

<!-- TD1 row -->
<g id="td1">
<rect class="g w" x="0.5" y="479.5" width="19.5" height="47"/>
<rect class="g w" x="20" y="479.5" width="20" height="47"/>
<rect class="g w" x="40" y="479.5" width="18" height="47"/>
<rect class="g w" x="58" y="479.5" width="15" height="47"/>
<rect class="g w" x="73" y="479.5" width="18" height="47"/>
<rect class="g w" x="91" y="479.5" width="19" height="47"/>
<rect class="g w" x="110" y="479.5" width="20" height="47"/>
<rect class="g w" x="130" y="479.5" width="21" height="47"/>
<rect class="g w" x="151" y="479.5" width="17" height="47"/>
<rect class="g w" x="168" y="479.5" width="19" height="47"/>
<rect class="g w" x="187" y="479.5" width="16" height="47"/>
<rect class="g w" x="203" y="479.5" width="15" height="47"/>
<rect class="g w" x="218" y="479.5" width="15" height="47"/>
<rect class="g w" x="233" y="479.5" width="17" height="47"/>
<rect class="g w" x="250" y="479.5" width="14" height="47"/>
<rect class="r w" x="264" y="479.5" width="16" height="47"/>
<rect class="r w" x="280" y="479.5" width="15" height="47"/>
<rect class="r w" x="295" y="479.5" width="21" height="47"/>
<rect class="r w" x="316" y="479.5" width="22" height="47"/>
<rect class="r w" x="338" y="479.5" width="22" height="47"/>
<rect class="g w" x="360" y="479.5" width="15" height="47"/>
<rect class="r w" x="375" y="479.5" width="15" height="47"/>
<rect class="g w" x="390" y="479.5" width="20" height="47"/>
<rect class="g w" x="410" y="479.5" width="18" height="47"/>
<rect class="g w" x="428" y="479.5" width="18" height="47"/>
<rect class="r w" x="446" y="479.5" width="20" height="47"/>
<rect class="r w" x="466" y="479.5" width="20" height="47"/>
<rect class="r w" x="486" y="479.5" width="19" height="47"/>
<rect class="r w" x="505" y="479.5" width="17" height="47"/>
<rect class="r w" x="522" y="479.5" width="19" height="47"/>
<rect class="k w" x="541" y="479.5" width="20" height="47"/>
<rect class="g w" x="561" y="479.5" width="16" height="47"/>
<rect class="r w" x="577" y="479.5" width="15" height="47"/>
<rect class="g w" x="592" y="479.5" width="16" height="47"/>
<rect class="g w" x="608" y="479.5" width="20" height="47"/>
<rect class="g w" x="628" y="479.5" width="16" height="47"/>
<rect class="r w" x="644" y="479.5" width="16" height="47"/>
<rect class="r w" x="660" y="479.5" width="14.5" height="47"/>
<text transform="rotate(-90 10.25 503)" x="10.25" y="503">cox1</text>
<text x="30" y="503">L2</text>
<text transform="rotate(-90 49 503)" x="49" y="503">cox2</text>
<text x="65.5" y="503">K</text>
<text x="82" y="503">D</text>
<text class="i" transform="rotate(-90 100.5 503)" x="100.5" y="503">atp8</text>
<text class="i" transform="rotate(-90 120 503)" x="120" y="503">atp6</text>
<text transform="rotate(-90 140.5 503)" x="140.5" y="503">cox3</text>
<text x="159.5" y="503">G</text>
<text class="i" transform="rotate(-90 177.5 503)" x="177.5" y="503">nad3</text>
<text x="195" y="503">A</text>
<text x="210.5" y="503">R</text>
<text x="225.5" y="503">N</text>
<text x="241.5" y="503">S1</text>
<text x="257" y="503">E</text>
<text x="272" y="503">H</text>
<text x="287.5" y="503">F</text>
<text class="i" transform="rotate(-90 305.5 503)" x="305.5" y="503">nad5</text>
<text class="i" transform="rotate(-90 327 503)" x="327" y="503">nad4</text>
<text class="i" transform="rotate(-90 349 503)" x="349" y="503">nad4L</text>
<text x="367.5" y="503">T</text>
<text x="382.5" y="503">P</text>
<text class="i" transform="rotate(-90 400 503)" x="400" y="503">nad6</text>
<text class="i" transform="rotate(-90 419 503)" x="419" y="503">cob</text>
<text x="437" y="503">S2</text>
<text class="i" transform="rotate(-90 456 503)" x="456" y="503">nad1</text>
<text x="476" y="503">L1</text>
<text class="i" transform="rotate(-90 495.5 503)" x="495.5" y="503">rrnL</text>
<text x="513.5" y="503">V</text>
<text class="i" transform="rotate(-90 531.5 503)" x="531.5" y="503">rrnS</text>
<text transform="rotate(-90 551 503)" x="551" y="503">CoRe</text>
<text x="569" y="503">I</text>
<text x="584.5" y="503">Q</text>
<text x="600" y="503">M</text>
<text class="i" transform="rotate(-90 618 503)" x="618" y="503">nad2</text>
<text x="636" y="503">W</text>
<text x="652" y="503">C</text>
<text x="667" y="503">Y</text>
<rect class="bar" x="264" y="523" width="96" height="4"/>
<rect class="bar" x="375" y="523" width="15" height="4"/>
<rect class="bar" x="446" y="523" width="95" height="4"/>
<rect class="bar" x="577" y="523" width="15" height="4"/>
<rect class="bar" x="644" y="523" width="31" height="4"/>
<circle class="dot" cx="265" cy="522" r="4.5"/><circle class="dot" cx="280" cy="522" r="4.5"/><circle class="dot" cx="316" cy="522" r="4.5"/>
</g>

<!-- BraGO fragment -->
<g id="brago">
<rect class="r t" x="297" y="540.5" width="15" height="37"/>
<rect class="r t" x="312" y="540.5" width="12" height="37"/>
<rect class="r t" x="324" y="540.5" width="18" height="37"/>
<rect class="k t" x="342" y="540.5" width="15" height="37"/>
<rect class="g t" x="357" y="540.5" width="11" height="37"/>
<rect class="r w" x="368" y="540.5" width="14" height="37"/>
<rect x="382.5" y="551" width="4" height="15" fill="#111"/>
<rect class="r w" x="387" y="540.5" width="15" height="37"/>
<rect class="r w" x="402" y="540.5" width="13" height="37"/>
<rect class="r w" x="415" y="540.5" width="17" height="37"/>
<rect class="k w" x="432" y="540.5" width="15" height="37"/>
<rect class="g w" x="447" y="540.5" width="12" height="37"/>
<rect class="r t" x="459" y="540.5" width="13" height="37"/>
<text class="n i lt" transform="rotate(-90 304.5 559)" x="304.5" y="559">rrnL</text>
<text class="m lt" x="318" y="559">V</text>
<text class="n i lt" transform="rotate(-90 333 559)" x="333" y="559">rrnS</text>
<text class="n lt" transform="rotate(-90 349.5 559)" x="349.5" y="559">CoRe</text>
<text class="m lt" x="362.5" y="559">I</text>
<text class="m" x="375" y="559">Q</text>
<text class="n i" transform="rotate(-90 394.5 559)" x="394.5" y="559">rrnL</text>
<text class="m" x="408.5" y="559">V</text>
<text class="n i" transform="rotate(-90 423.5 559)" x="423.5" y="559">rrnS</text>
<text class="n" transform="rotate(-90 439.5 559)" x="439.5" y="559">CoRe</text>
<text class="m" x="453" y="559">I</text>
<text class="m lt" x="465.5" y="559">Q</text>
<rect class="bar" x="297" y="574.5" width="60" height="3.5"/>
<rect class="bar" x="368" y="574.5" width="14" height="3.5"/>
<rect class="bar" x="387" y="574.5" width="45" height="3.5"/>
<rect class="bar" x="459" y="574.5" width="13" height="3.5"/>
</g>

<!-- DynGO row -->
<g id="dyngo">
<rect class="g w" x="0.5" y="590.5" width="19.5" height="47"/>
<rect class="g w" x="20" y="590.5" width="20" height="47"/>
<rect class="g w" x="40" y="590.5" width="18" height="47"/>
<rect class="g w" x="58" y="590.5" width="15" height="47"/>
<rect class="g w" x="73" y="590.5" width="18" height="47"/>
<rect class="g w" x="91" y="590.5" width="19" height="47"/>
<rect class="g w" x="110" y="590.5" width="20" height="47"/>
<rect class="g w" x="130" y="590.5" width="21" height="47"/>
<rect class="g w" x="151" y="590.5" width="17" height="47"/>
<rect class="g w" x="168" y="590.5" width="19" height="47"/>
<rect class="g w" x="187" y="590.5" width="16" height="47"/>
<rect class="g w" x="203" y="590.5" width="15" height="47"/>
<rect class="g w" x="218" y="590.5" width="15" height="47"/>
<rect class="g w" x="233" y="590.5" width="17" height="47"/>
<rect class="g w" x="250" y="590.5" width="14" height="47"/>
<rect class="r w" x="264" y="590.5" width="16" height="47"/>
<rect class="r w" x="280" y="590.5" width="15" height="47"/>
<rect class="r w" x="295" y="590.5" width="21" height="47"/>
<rect class="r w" x="316" y="590.5" width="22" height="47"/>
<rect class="r w" x="338" y="590.5" width="22" height="47"/>
<rect class="g w" x="360" y="590.5" width="15" height="47"/>
<rect class="r w" x="375" y="590.5" width="15" height="47"/>
<rect class="g w" x="390" y="590.5" width="20" height="47"/>
<rect class="g w" x="410" y="590.5" width="17" height="47"/>
<rect class="g w" x="427" y="590.5" width="19" height="47"/>
<rect class="r w" x="446" y="590.5" width="20" height="47"/>
<rect class="r w" x="466" y="590.5" width="19" height="47"/>
<rect class="r y" x="485" y="590.5" width="15" height="47"/>
<rect class="r w" x="500" y="590.5" width="19" height="47"/>
<rect class="r w" x="519" y="590.5" width="17" height="47"/>
<rect class="r w" x="536" y="590.5" width="19" height="47"/>
<rect class="k w" x="555" y="590.5" width="21" height="47"/>
<rect class="g w" x="576" y="590.5" width="16" height="47"/>
<rect class="g w" x="592" y="590.5" width="16" height="47"/>
<rect class="g w" x="608" y="590.5" width="20" height="47"/>
<rect class="g w" x="628" y="590.5" width="16" height="47"/>
<rect class="r w" x="644" y="590.5" width="16" height="47"/>
<rect class="r w" x="660" y="590.5" width="14.5" height="47"/>
<text transform="rotate(-90 10.25 614)" x="10.25" y="614">cox1</text>
<text x="30" y="614">L2</text>
<text transform="rotate(-90 49 614)" x="49" y="614">cox2</text>
<text x="65.5" y="614">K</text>
<text x="82" y="614">D</text>
<text class="i" transform="rotate(-90 100.5 614)" x="100.5" y="614">atp8</text>
<text class="i" transform="rotate(-90 120 614)" x="120" y="614">atp6</text>
<text transform="rotate(-90 140.5 614)" x="140.5" y="614">cox3</text>
<text x="159.5" y="614">G</text>
<text class="i" transform="rotate(-90 177.5 614)" x="177.5" y="614">nad3</text>
<text x="195" y="614">A</text>
<text x="210.5" y="614">R</text>
<text x="225.5" y="614">N</text>
<text x="241.5" y="614">S1</text>
<text x="257" y="614">E</text>
<text x="272" y="614">H</text>
<text x="287.5" y="614">F</text>
<text class="i" transform="rotate(-90 305.5 614)" x="305.5" y="614">nad5</text>
<text class="i" transform="rotate(-90 327 614)" x="327" y="614">nad4</text>
<text class="i" transform="rotate(-90 349 614)" x="349" y="614">nad4L</text>
<text x="367.5" y="614">T</text>
<text x="382.5" y="614">P</text>
<text class="i" transform="rotate(-90 400 614)" x="400" y="614">nad6</text>
<text class="i" transform="rotate(-90 418.5 614)" x="418.5" y="614">cob</text>
<text x="436.5" y="614">S2</text>
<text class="i" transform="rotate(-90 456 614)" x="456" y="614">nad1</text>
<text x="475.5" y="614">L1</text>
<text x="492.5" y="614">Q</text>
<text class="i" transform="rotate(-90 509.5 614)" x="509.5" y="614">rrnL</text>
<text x="527.5" y="614">V</text>
<text class="i" transform="rotate(-90 545.5 614)" x="545.5" y="614">rrnS</text>
<text transform="rotate(-90 565.5 614)" x="565.5" y="614">CoRe</text>
<text x="584" y="614">I</text>
<text x="600" y="614">M</text>
<text class="i" transform="rotate(-90 618 614)" x="618" y="614">nad2</text>
<text x="636" y="614">W</text>
<text x="652" y="614">C</text>
<text x="667" y="614">Y</text>
<rect class="bar" x="264" y="634" width="96" height="4"/>
<rect class="bar" x="375" y="634" width="15" height="4"/>
<rect class="bar" x="446" y="634" width="109" height="4"/>
<rect class="bar" x="644" y="634" width="31" height="4"/>
<circle class="dot" cx="265" cy="633" r="4.5"/><circle class="dot" cx="280" cy="633" r="4.5"/><circle class="dot" cx="316" cy="633" r="4.5"/><circle class="dot" cx="485" cy="633" r="4.5"/><circle class="dot" cx="501" cy="633" r="4.5"/><circle class="dot" cx="592" cy="633" r="4.5"/>
</g>

<!-- Connectors -->
<g id="connectors" fill="none">
<path d="M576,134 H582.5 V163 H93 V190.5 H98" stroke="#a3231a" stroke-width="2"/>
<path d="M576,363 H582.5 V392 H92.5 V419.5 H97" stroke="#1d4f9e" stroke-width="2"/>
<line x1="58" y1="255" x2="97" y2="118" stroke="#a3231a" stroke-width="1.2" stroke-dasharray="1.5 2" marker-end="url(#mr)"/>
<line x1="675" y1="255" x2="579" y2="118" stroke="#a3231a" stroke-width="1.2" stroke-dasharray="1.5 2" marker-end="url(#mr)"/>
<line x1="58" y1="479" x2="97" y2="345" stroke="#1d4f9e" stroke-width="1.2" stroke-dasharray="1.5 2" marker-end="url(#mb)"/>
<line x1="675" y1="479" x2="579" y2="345" stroke="#1d4f9e" stroke-width="1.2" stroke-dasharray="1.5 2" marker-end="url(#mb)"/>
<path d="M584.5,527 V555 H492.5 V589" stroke="#111" stroke-width="1.5" marker-end="url(#mk)"/>
</g>
<text class="lab" x="600" y="561" style="font-size:15px">T1; tdrl</text>
</svg>
